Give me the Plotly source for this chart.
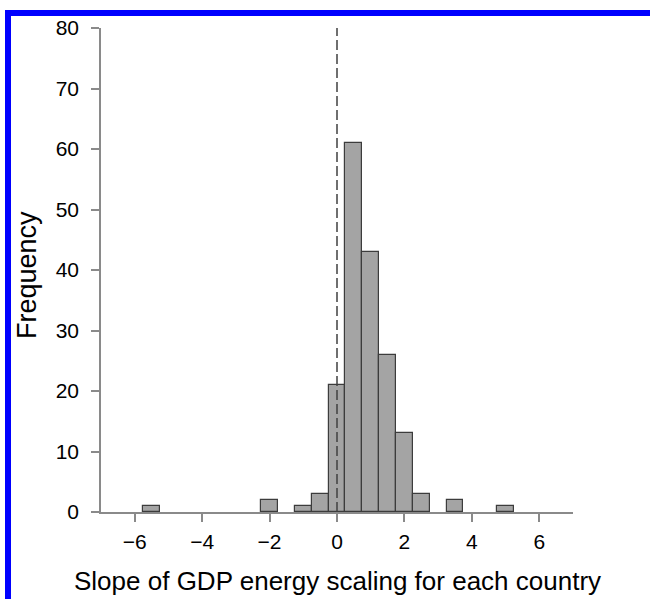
import plotly.graph_objects as go

# Histogram data (bin width 0.5)
bin_centers = [-5.5, -2.0, -1.0, -0.5, 0.0, 0.5, 1.0, 1.5, 2.0, 2.5, 3.5, 5.0]
counts = [1, 2, 1, 3, 21, 61, 43, 26, 13, 3, 2, 1]
bin_width = 0.5
x_ticks = [-6, -4, -2, 0, 2, 4, 6]
y_ticks = [0, 10, 20, 30, 40, 50, 60, 70, 80]
x_title = "Slope of GDP energy scaling for each country"
y_title = "Frequency"

W, H = 650, 599
L, R, T, B = 101, 77, 28, 87
PW, PH = W - L - R, H - T - B

def px2paper_x(px):
    return (px - L) / PW

def px2paper_y(py):
    return (H - B - py) / PH

FONT = "Liberation Sans, Arial, Helvetica, sans-serif"
TXT = "#000000"

fig = go.Figure()
fig.add_trace(go.Bar(
    x=bin_centers, y=counts, width=bin_width,
    marker=dict(color="#a4a4a4", line=dict(color="#3c3c3c", width=1.2)),
    showlegend=False,
))

shapes = [
    # dashed reference line at zero
    dict(type="line", xref="x", yref="y", x0=0, x1=0, y0=0, y1=80,
         line=dict(color="#404040", width=1.5, dash="10px,4px"), layer="above"),
    # blue frame (top and left)
    dict(type="rect", xref="paper", yref="paper",
         x0=px2paper_x(5), x1=px2paper_x(660), y0=px2paper_y(16), y1=px2paper_y(10),
         fillcolor="#0000ff", line=dict(width=0), layer="above"),
    dict(type="rect", xref="paper", yref="paper",
         x0=px2paper_x(5), x1=px2paper_x(11), y0=px2paper_y(610), y1=px2paper_y(10),
         fillcolor="#0000ff", line=dict(width=0), layer="above"),
]

annotations = [
    dict(text=x_title, xref="paper", yref="paper", x=0.5, y=px2paper_y(581),
         xanchor="center", yanchor="middle", showarrow=False,
         font=dict(family=FONT, size=26, color=TXT)),
    dict(text=y_title, xref="paper", yref="paper", x=px2paper_x(27), y=px2paper_y(275),
         xanchor="center", yanchor="middle", showarrow=False, textangle=-90,
         font=dict(family=FONT, size=27, color=TXT)),
]

fig.update_layout(
    width=W, height=H,
    margin=dict(l=L, r=R, t=T, b=B, pad=0),
    paper_bgcolor="white", plot_bgcolor="white",
    font=dict(family=FONT, color=TXT),
    bargap=0,
    shapes=shapes,
    annotations=annotations,
    xaxis=dict(range=[-7, 7], tickvals=x_ticks, showgrid=False, zeroline=False,
               showline=True, linecolor="#8a8a8a", linewidth=1.5,
               ticks="outside", ticklen=8, tickwidth=1.5, tickcolor="#8a8a8a",
               tickfont=dict(size=21, family=FONT, color=TXT),
               ticklabelstandoff=2, automargin=False),
    yaxis=dict(range=[0, 80], tickvals=y_ticks, showgrid=False, zeroline=False,
               showline=True, linecolor="#8a8a8a", linewidth=1.5,
               ticks="outside", ticklen=8, tickwidth=1.5, tickcolor="#8a8a8a",
               tickfont=dict(size=21, family=FONT, color=TXT),
               ticklabelstandoff=8, automargin=False),
)

fig.write_html(
    "out.html",
    config={"displayModeBar": False},
    post_script="document.documentElement.style.margin='0';"
                "document.body.style.margin='0';"
                "document.body.style.overflow='hidden';",
)
